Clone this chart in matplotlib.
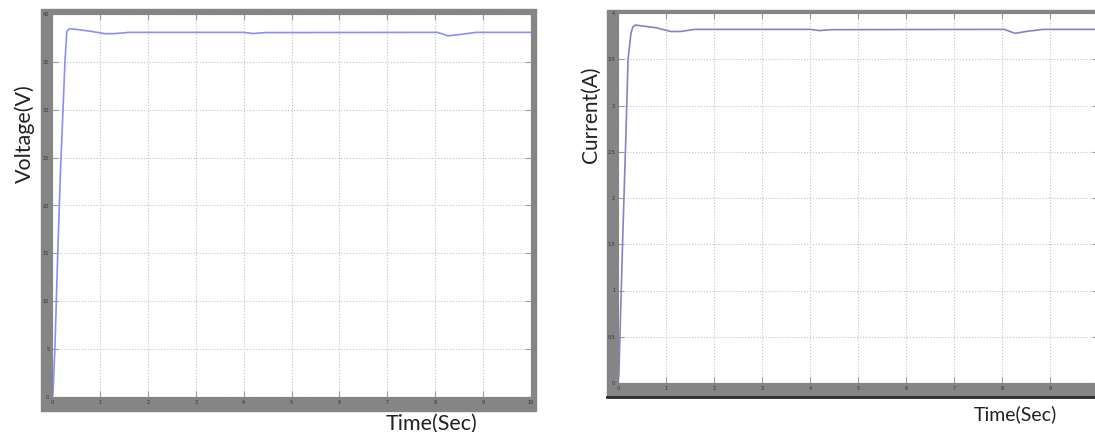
import numpy as np
import matplotlib
matplotlib.use('Agg')
import matplotlib.pyplot as plt
from matplotlib.patches import Rectangle
from matplotlib.ticker import FormatStrFormatter

# Output voltage of the converter (V)
t_v = [0, 0.02, 0.06, 0.12, 0.18, 0.23, 0.27, 0.31, 0.36, 0.5, 0.8, 1.1,
       1.3, 1.6, 4.0, 4.2, 4.45, 8.05, 8.27, 8.5, 8.85, 10]
voltage = [0, 0.3, 5, 15, 24, 30, 35, 38.2, 38.45, 38.4, 38.2, 37.95,
           37.95, 38.08, 38.08, 37.96, 38.06, 38.08, 37.72, 37.85, 38.08, 38.08]

# Output current (A)
t_i = [0, 0.02, 0.04, 0.1, 0.16, 0.21, 0.27, 0.31, 0.36, 0.5, 0.8, 1.1,
       1.3, 1.6, 4.0, 4.2, 4.45, 8.05, 8.27, 8.5, 8.85, 10]
current = [0, 0.1, 0.5, 1.6, 2.6, 3.5, 3.78, 3.85, 3.87, 3.86, 3.84, 3.80,
           3.80, 3.823, 3.823, 3.81, 3.82, 3.823, 3.78, 3.80, 3.823, 3.823]

v_ticks = np.arange(0, 41, 5)
i_ticks = [0, 0.5, 1, 1.5, 2, 2.5, 3, 3.5, 4]
x_ticks = np.arange(0, 11, 1)

W, H = 1095, 432
fig = plt.figure(figsize=(W / 100, H / 100), dpi=100)

def px(x0, y0, x1, y1):
    # pixel box (top-left origin) -> figure fraction rect
    return [x0 / W, 1 - y1 / H, (x1 - x0) / W, (y1 - y0) / H]

frame_col = '#858585'
# gray scope frames behind the plot areas
fig.patches.append(Rectangle((41 / W, 1 - 411 / H), 495 / W, 402 / H,
                             transform=fig.transFigure, color=frame_col, zorder=-5))
fig.patches.append(Rectangle((607 / W, 1 - 397 / H), 500 / W, 387 / H,
                             transform=fig.transFigure, color=frame_col, zorder=-5))
fig.add_artist(plt.Line2D([607 / W, 1], [1 - 397 / H] * 2, transform=fig.transFigure,
                          color='#2a2a2a', lw=2, zorder=-4))

def style(ax, yticks, fmt):
    ax.set_xlim(0, 10)
    ax.set_xticks(x_ticks)
    ax.set_yticks(yticks)
    ax.yaxis.set_major_formatter(FormatStrFormatter(fmt))
    ax.grid(True, linestyle=':', color='#c4c4c4', linewidth=0.8)
    ax.tick_params(direction='in', length=4, width=0.8, color='#a0a0a0',
                   labelsize=3.5, labelcolor='#333333', pad=2,
                   top=True, right=True)
    for s in ax.spines.values():
        s.set_color(frame_col)
        s.set_linewidth(0.8)

ax1 = fig.add_axes(px(52, 14, 531, 397))
ax1.plot(t_v, voltage, color='#8c8cff', lw=1.2)
ax1.set_ylim(0, 40)
style(ax1, v_ticks, '%g')

ax2 = fig.add_axes(px(618, 13, 1098, 383))
ax2.plot(t_i, current, color='#8484c4', lw=1.2)
ax2.set_ylim(0, 4)
style(ax2, i_ticks, '%g')

lab = dict(family=['Lato', 'DejaVu Sans'], color='#222222')
fig.text(25 / W, 1 - 134 / H, 'Voltage(V)', rotation=90, ha='center', va='center',
         fontsize=15.5, **lab)
fig.text(432 / W, 1 - 424 / H, 'Time(Sec)', ha='center', va='center', fontsize=15.5, **lab)
fig.text(591 / W, 1 - 115 / H, 'Current(A)', rotation=90, ha='center', va='center',
         fontsize=15, **lab)
fig.text(1015 / W, 1 - 414 / H, 'Time(Sec)', ha='center', va='center', fontsize=14, **lab)

fig.savefig('out.png', dpi=100)
